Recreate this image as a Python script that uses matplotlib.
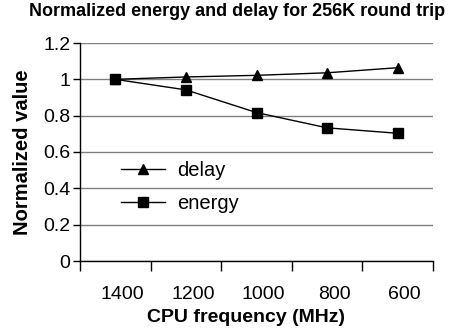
import numpy as np
import matplotlib
matplotlib.use("Agg")
import matplotlib.pyplot as plt
import matplotlib.transforms as mtransforms

plt.rcParams['font.family'] = ['Liberation Sans', 'DejaVu Sans']

freqs = ['1400', '1200', '1000', '800', '600']
delay = [1.0, 1.013, 1.022, 1.036, 1.064]
energy = [1.0, 0.942, 0.817, 0.733, 0.703]
yticks = [0, 0.2, 0.4, 0.6, 0.8, 1, 1.2]
yticklabels = ['0', '0.2', '0.4', '0.6', '0.8', '1', '1.2']

fig = plt.figure(figsize=(4.63, 3.33), dpi=100)
ax = fig.add_axes([80/463, 1 - 261/333, (433 - 80)/463, (261 - 43)/333])

x = np.arange(len(freqs))
ax.plot(x, delay, color='black', lw=1, marker='^', ms=7.5, label='delay')
ax.plot(x, energy, color='black', lw=1, marker='s', ms=7, label='energy')

ax.set_xlim(-0.5, len(freqs) - 0.5)
ax.set_ylim(0, 1.2)
ax.set_yticks(yticks)
ax.set_yticklabels(yticklabels, fontsize=14)
ax.yaxis.grid(True, color='#808080', lw=1)
ax.set_axisbelow(True)

# category boundaries as major ticks, labels on minor ticks at centres
ax.set_xticks(np.arange(-0.5, len(freqs), 1))
ax.set_xticklabels([])
ax.set_xticks(x, minor=True)
ax.set_xticklabels(freqs, minor=True, fontsize=14)
ax.tick_params(axis='x', which='major', length=7, width=1, direction='out')
ax.tick_params(axis='x', which='minor', length=0, pad=18)
ax.tick_params(axis='y', length=5, width=1, pad=2)
offset = mtransforms.ScaledTranslation(7/100, 0, fig.dpi_scale_trans)
for lab in ax.get_xticklabels(minor=True):
    lab.set_transform(lab.get_transform() + offset)

for s in ['top', 'right']:
    ax.spines[s].set_visible(False)
for s in ['left', 'bottom']:
    ax.spines[s].set_linewidth(1)
    ax.spines[s].set_color('black')

ax.legend(loc='upper left', bbox_to_anchor=(0.087, 0.505), frameon=False,
          fontsize=14.5, handlelength=2.2, handletextpad=0.6, labelspacing=0.7,
          borderpad=0)

fig.text(237/463, 1 - 12/333, 'Normalized energy and delay for 256K round trip',
         ha='center', va='center', fontsize=13, fontweight='bold')
fig.text(246/463, 1 - 317/333, 'CPU frequency (MHz)', ha='center', va='center',
         fontsize=14, fontweight='bold')
fig.text(23/463, 1 - 152/333, 'Normalized value', ha='center', va='center',
         rotation=90, fontsize=14.5, fontweight='bold')

fig.savefig('out.png', dpi=100)
